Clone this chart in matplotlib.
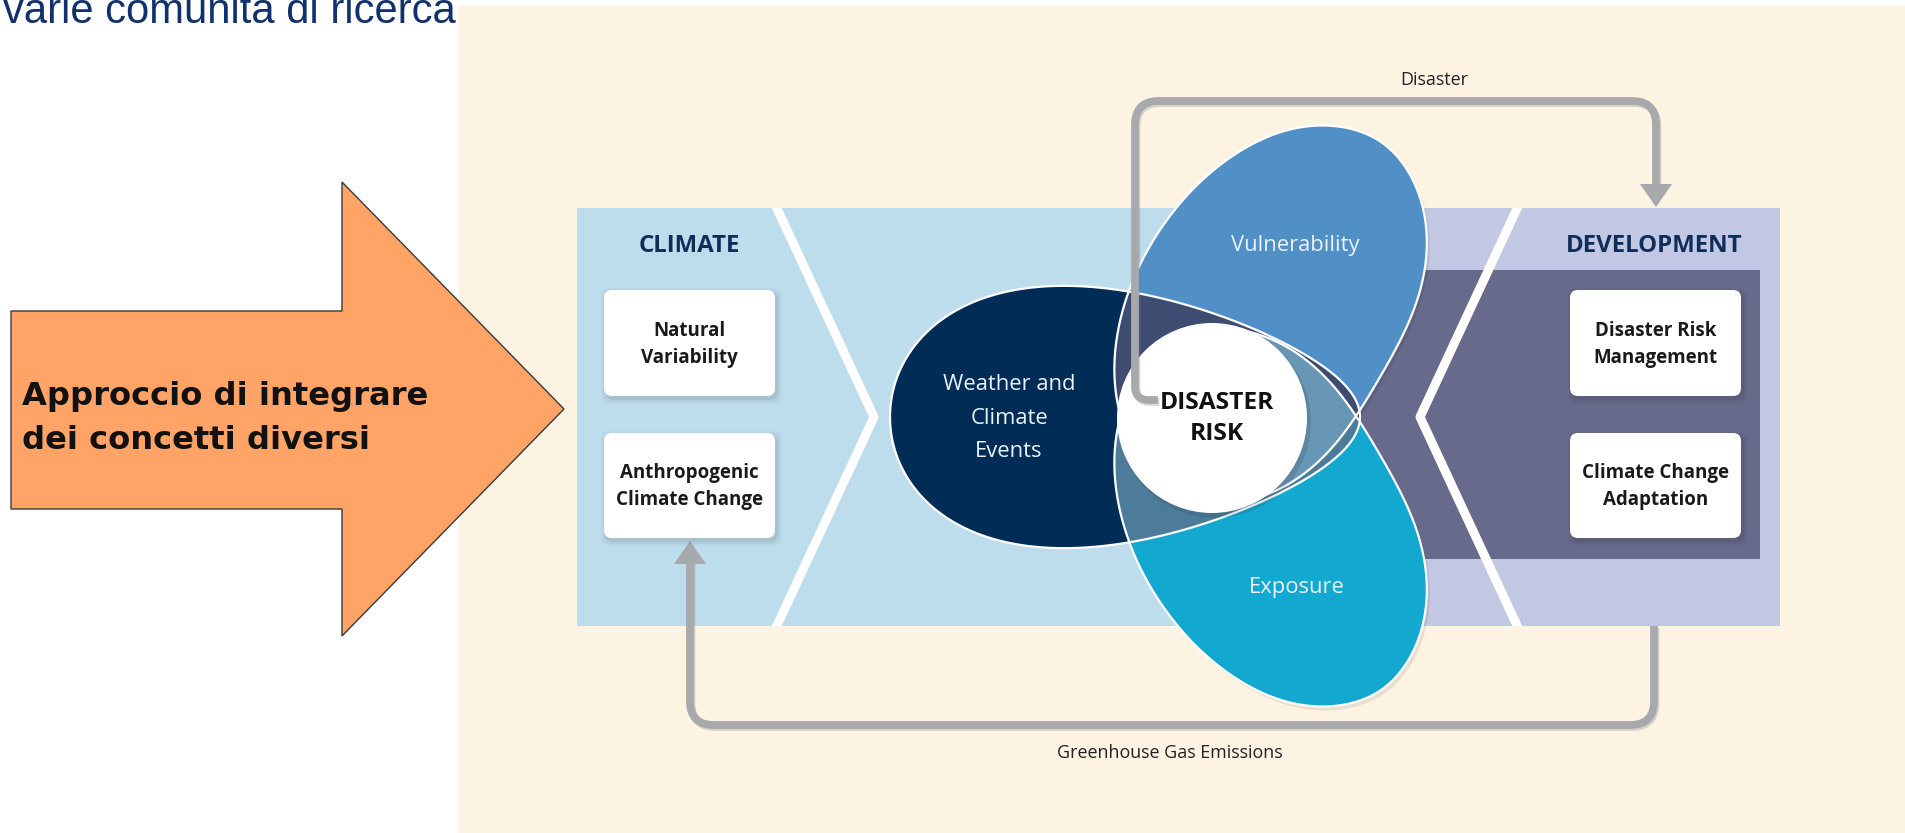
import numpy as np
import matplotlib
matplotlib.use("Agg")
import matplotlib.pyplot as plt
from matplotlib.patches import Rectangle, Circle, Polygon, FancyBboxPatch, PathPatch
from matplotlib.path import Path
from matplotlib.font_manager import FontProperties, fontManager
from matplotlib.textpath import TextPath

# ---------------- content ----------------
title_text = "varie comunità di ricerca"
arrow_lines = ["Approccio di integrare", "dei concetti diversi"]
climate_title = "CLIMATE"
development_title = "DEVELOPMENT"
climate_boxes = [["Natural", "Variability"], ["Anthropogenic", "Climate Change"]]
development_boxes = [["Disaster Risk", "Management"], ["Climate Change", "Adaptation"]]
hazard_label = ["Weather and", "Climate", "Events"]
vulnerability_label = "Vulnerability"
exposure_label = "Exposure"
risk_label = ["DISASTER", "RISK"]
top_flow_label = "Disaster"
bottom_flow_label = "Greenhouse Gas Emissions"

# ---------------- colours ----------------
CREAM = "#FDF3E3"
ORANGE = "#FFA466"
LIGHTBLUE = "#BDDCEC"
LAVENDER = "#C2C8E4"
BAND = "#686A8B"
NAVY = "#002C56"
VULN = "#5090C7"
EXPO = "#12A8D0"
W_V = "#3E4C72"
W_E = "#4D7C9B"
V_E = "#6896B5"
GRAY = "#A7A9AC"
HEAD = "#0E2D58"
TITLE_COL = "#11306F"

W, H, DPI = 1905, 833, 100
names = {f.name for f in fontManager.ttflist}


def pick(*cands):
    for c in cands:
        if c in names:
            return c
    return "DejaVu Sans"


DIAG = pick("Open Sans", "Noto Sans", "Lato")
TITLEF = pick("Liberation Sans", "DejaVu Sans")


def fit(s, width_px, family, weight="normal"):
    fp = FontProperties(family=family, weight=weight)
    w10 = TextPath((0, 0), s, size=10, prop=fp).get_extents().width
    return 10.0 * width_px / w10 * 72.0 / DPI


def em(size):
    return size * DPI / 72.0


fig = plt.figure(figsize=(W / DPI, H / DPI), dpi=DPI)
fig.patch.set_facecolor("white")
ax = fig.add_axes([0, 0, 1, 1])
ax.set_xlim(0, W)
ax.set_ylim(H, 0)
ax.axis("off")


def put(x, yc, s, size, family, weight="normal", color="k", ha="center", cap=0.72, z=12):
    ax.text(x, yc + cap * em(size) / 2, s, fontsize=size, family=family, weight=weight,
            color=color, ha=ha, va="baseline", zorder=z)


# ---------------- backgrounds ----------------
ax.add_patch(Rectangle((459, 6), W - 459, H - 6, fc=CREAM, ec="none", zorder=0))

# title line (its upper part is cut by the slide edge, as in the source)
ts = fit(title_text, 452, TITLEF)
ax.text(3, 23, title_text, fontsize=ts, family=TITLEF, color=TITLE_COL, ha="left", va="baseline", zorder=12)

# big orange arrow
ax.add_patch(Polygon([(11, 311), (342, 311), (342, 182), (564, 409), (342, 636), (342, 509), (11, 509)],
                     closed=True, fc=ORANGE, ec="#3A3A3A", lw=1.0, zorder=2))
asz = fit(arrow_lines[0], 404, "DejaVu Sans", "bold")
for s, yb in zip(arrow_lines, [405, 449]):
    ax.text(22, yb, s, fontsize=asz, family="DejaVu Sans", weight="bold",
            color="#111111", ha="left", va="baseline", zorder=12)

# ---------------- panels ----------------
ax.add_patch(Rectangle((577, 208), 1330 - 577, 626 - 208, fc=LIGHTBLUE, ec="none", zorder=1))
ax.add_patch(Rectangle((1330, 208), 1780 - 1330, 626 - 208, fc=LAVENDER, ec="none", zorder=1))
ax.add_patch(Rectangle((1330, 270), 1760 - 1330, 559 - 270, fc=BAND, ec="none", zorder=1.1))
clip_rect = Rectangle((577, 208), 1780 - 577, 626 - 208, transform=ax.transData)
for xs in ([773, 874, 773], [1521, 1420, 1521]):
    ln, = ax.plot(xs, [200, 417, 634], color="white", lw=6.5, solid_joinstyle="round", zorder=2)
    ln.set_clip_path(clip_rect)

# headings
hs = fit(development_title, 174, DIAG, "bold")
put(689.5, 243, climate_title, hs, DIAG, "bold", HEAD)
put(1654, 243, development_title, hs, DIAG, "bold", HEAD)

# white boxes
bsz = fit("Climate Change", 145, DIAG, "bold")
box_x = [604, 1570]
box_y = [(290, 396), (433, 538)]
for bx, labels in zip(box_x, [climate_boxes, development_boxes]):
    for (y0, y1), lab in zip(box_y, labels):
        for k, a in enumerate([0.06, 0.04, 0.025]):
            ax.add_patch(FancyBboxPatch((bx + 2, y0 + 3), 171, y1 - y0,
                                        boxstyle="round,pad=%d,rounding_size=9" % (k * 2 + 1),
                                        fc="black", ec="none", alpha=a, zorder=2.5))
        ax.add_patch(FancyBboxPatch((bx, y0), 171, y1 - y0, boxstyle="round,pad=0,rounding_size=8",
                                    fc="white", ec="none", zorder=3))
        yc = (y0 + y1) / 2
        put(bx + 85.5, yc - 14, lab[0], bsz, DIAG, "bold", "#1A1A1A")
        put(bx + 85.5, yc + 13, lab[1], bsz, DIAG, "bold", "#1A1A1A")


# ---------------- grey flow arrows ----------------
def rounded(pts, radii, n=14):
    pts = np.asarray(pts, float)
    out = [pts[0]]
    for i in range(1, len(pts) - 1):
        p0, p1, p2 = pts[i - 1], pts[i], pts[i + 1]
        r = radii[i - 1]
        d1 = (p0 - p1) / np.linalg.norm(p0 - p1)
        d2 = (p2 - p1) / np.linalg.norm(p2 - p1)
        a, b = p1 + d1 * r, p1 + d2 * r
        t = np.linspace(0, 1, n)[:, None]
        out.extend((1 - t) ** 2 * a + 2 * (1 - t) * t * p1 + t ** 2 * b)
    out.append(pts[-1])
    return np.array(out)


def flow(pts, radii, tip, z):
    p = rounded(pts, radii)
    ax.plot(p[:, 0] + 1.5, p[:, 1] + 2, color="#7F8184", lw=5.6, alpha=0.30, zorder=z - 0.1,
            solid_capstyle="butt")
    ax.plot(p[:, 0], p[:, 1], color=GRAY, lw=5.6, zorder=z, solid_capstyle="butt", solid_joinstyle="round")
    tx, ty, dirn = tip
    ax.add_patch(Polygon([(tx, ty), (tx - 16, ty - 23 * dirn), (tx + 16, ty - 23 * dirn)],
                         closed=True, fc=GRAY, ec="none", zorder=z))


flow([(690, 562), (690, 725), (1654, 725), (1654, 626)], [24, 24], (690, 541, -1), 1.5)
fsz = fit(bottom_flow_label, 224, DIAG)
put(1170, 752, bottom_flow_label, fsz, DIAG, "normal", "#222222")
put(1434, 79, top_flow_label, fsz, DIAG, "normal", "#222222")


# ---------------- the three overlapping shapes ----------------
def closed_spline(pts, per_seg=40):
    """Periodic cubic spline (chord-length knots) through outline points -> closed Path."""
    P = np.asarray(pts, float)
    n = len(P)
    h = np.linalg.norm(np.roll(P, -1, axis=0) - P, axis=1)
    hp = np.roll(h, 1)
    A = np.zeros((n, n))
    for i in range(n):
        A[i, (i - 1) % n] += hp[i]
        A[i, i] += 2 * (hp[i] + h[i])
        A[i, (i + 1) % n] += h[i]
    cols = []
    for k in range(2):
        y = P[:, k]
        rhs = 6 * ((np.roll(y, -1) - y) / h - (y - np.roll(y, 1)) / hp)
        M = np.linalg.solve(A, rhs)
        vals = []
        for i in range(n):
            j = (i + 1) % n
            s = np.linspace(0, h[i], per_seg, endpoint=False)
            a, b = h[i] - s, s
            vals.append(M[i] * a ** 3 / (6 * h[i]) + M[j] * b ** 3 / (6 * h[i])
                        + (y[i] / h[i] - M[i] * h[i] / 6) * a + (y[j] / h[i] - M[j] * h[i] / 6) * b)
        cols.append(np.concatenate(vals))
    V = np.column_stack(cols)
    return Path(np.vstack([V, V[:1]]), closed=True)


def egg(cx, cy, a, b, k, n=400):
    t = np.linspace(0, 2 * np.pi, n)
    x = cx + a * np.cos(t)
    y = cy - b * np.sin(t) * (1 - k * np.cos(t))
    V = np.column_stack([x, y])
    return Path(np.vstack([V, V[:1]]), closed=True)


AXIS_Y = 416
# "Weather and Climate Events": slightly egg-shaped, narrower towards the centre
wpath = egg(1125, 417, 235, 126, 0.30)
# outline of the "Vulnerability" petal; "Exposure" is its mirror image about the centre line
vul_outline = [(1311, 126), (1381, 142), (1421, 201), (1421, 287), (1380, 377), (1356, 416),
               (1328, 452), (1295, 480), (1250, 500), (1190, 500), (1145, 465), (1117, 400),
               (1121, 317), (1162, 227), (1231, 157)]
vpath = closed_spline(vul_outline)
epath = closed_spline([(x, 2 * AXIS_Y - y) for x, y in vul_outline])

for pth in (vpath, epath):
    sh = Path(pth.vertices + np.array([3, 4]), pth.codes)
    ax.add_patch(PathPatch(sh, fc="black", alpha=0.08, ec="none", zorder=4.8))

ax.add_patch(PathPatch(wpath, fc=NAVY, ec="none", zorder=5))
ax.add_patch(PathPatch(vpath, fc=VULN, ec="none", zorder=5.1))
ax.add_patch(PathPatch(epath, fc=EXPO, ec="none", zorder=5.2))


def overlap(base, color, clip, z):
    p = PathPatch(base, fc=color, ec="none", zorder=z)
    ax.add_patch(p)
    p.set_clip_path(PathPatch(clip, transform=ax.transData))


overlap(wpath, W_V, vpath, 5.3)
overlap(wpath, W_E, epath, 5.4)
overlap(vpath, V_E, epath, 5.5)
for pth in (wpath, vpath, epath):
    ax.add_patch(PathPatch(pth, fc="none", ec="white", lw=1.6, zorder=6))

# centre circle
ax.add_patch(Circle((1215, 422), 96, fc="black", alpha=0.10, ec="none", zorder=7.9))
ax.add_patch(Circle((1212, 418), 95, fc="white", ec="none", zorder=8))

lsz = fit(vulnerability_label, 128, DIAG)
LBL = "#EAF2F8"
put(1009, 382, hazard_label[0], lsz, DIAG, "normal", LBL)
put(1009, 416, hazard_label[1], lsz, DIAG, "normal", LBL)
put(1009, 449, hazard_label[2], lsz, DIAG, "normal", LBL)
put(1295, 243, vulnerability_label, lsz, DIAG, "normal", LBL)
put(1297, 585, exposure_label, lsz, DIAG, "normal", LBL)

rsz = fit(risk_label[0], 112, DIAG, "bold")
put(1217, 400, risk_label[0], rsz, DIAG, "bold", "#111111")
put(1217, 431, risk_label[1], rsz, DIAG, "bold", "#111111")

# top "Disaster" hook arrow (drawn over the shapes)
flow([(1158, 400), (1135, 400), (1135, 101), (1656, 101), (1656, 188)], [14, 24, 24], (1656, 207, 1), 20)

fig.savefig("out.png", dpi=DPI, facecolor="white")
